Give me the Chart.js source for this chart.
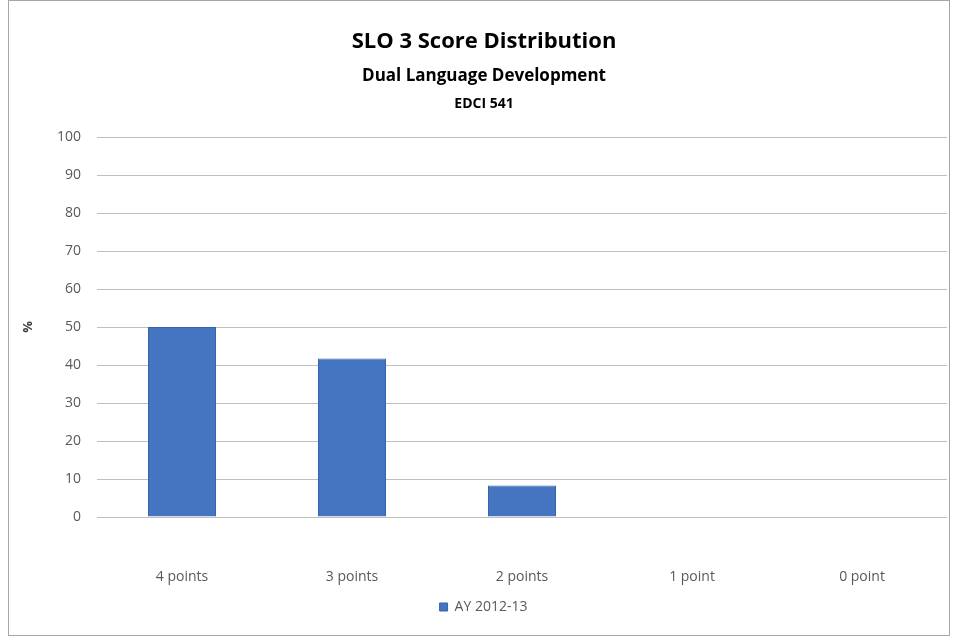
<!DOCTYPE html>
<html>
<head>
<meta charset="utf-8">
<script src="https://cdn.jsdelivr.net/npm/chart.js@4.4.1/dist/chart.umd.min.js"></script>
<style>
  html, body { margin: 0; padding: 0; background: #ffffff; }
  #wrap { position: relative; width: 956px; height: 639px; }
</style>
</head>
<body>
<div id="wrap"><canvas id="c" width="956" height="639"></canvas></div>
<script>
const titleLines = ["SLO 3 Score Distribution", "Dual Language Development", "EDCI 541"];
const categories = ["4 points", "3 points", "2 points", "1 point", "0 point"];
const seriesName = "AY 2012-13";
const seriesValues = [50, 41.7, 8.3, 0, 0];
const yTicks = [0, 10, 20, 30, 40, 50, 60, 70, 80, 90, 100];
const yTitle = "%";

const FONT = "'Open Sans', 'Liberation Sans', sans-serif";

const framePlugin = {
  id: 'frame',
  beforeDraw(chart) {
    const ctx = chart.ctx;
    ctx.save();
    ctx.fillStyle = '#ffffff';
    ctx.fillRect(0, 0, chart.width, chart.height);
    ctx.strokeStyle = '#a6a6a6';
    ctx.lineWidth = 1;
    ctx.strokeRect(8.5, 0.5, 941, 635);
    ctx.restore();
  },
  afterDraw(chart) {
    const ctx = chart.ctx;
    ctx.save();
    ctx.fillStyle = '#000000';
    ctx.textAlign = 'center';
    ctx.textBaseline = 'middle';
    const cx = 484;
    ctx.font = "bold 22px " + FONT;
    ctx.fillText(titleLines[0], cx, 42);
    ctx.font = "bold 17px " + FONT;
    ctx.fillText(titleLines[1], cx, 76);
    ctx.font = "bold 14px " + FONT;
    ctx.fillText(titleLines[2], cx, 104);
    ctx.restore();
  }
};

new Chart(document.getElementById('c'), {
  type: 'bar',
  data: {
    labels: categories,
    datasets: [{
      label: seriesName,
      data: seriesValues,
      backgroundColor: '#4575c0',
      borderColor: '#3563ad',
      borderWidth: 1,
      categoryPercentage: 0.8,
      barPercentage: 0.5
    }]
  },
  plugins: [framePlugin],
  options: {
    responsive: false,
    animation: false,
    devicePixelRatio: 1,
    layout: { padding: { top: 137, right: 9, bottom: 15, left: 20 } },
    plugins: {
      title: { display: false },
      tooltip: { enabled: false },
      legend: {
        display: true,
        position: 'bottom',
        labels: {
          boxWidth: 8, boxHeight: 8,
          color: '#595959',
          font: { family: FONT, size: 14 },
          padding: 10
        }
      }
    },
    scales: {
      x: {
        grid: { display: false, drawTicks: false },
        border: { display: false },
        ticks: { color: '#595959', font: { family: FONT, size: 14 }, padding: 52, maxRotation: 0 },
        afterFit(scale) { scale.height = 73; }
      },
      y: {
        min: 0, max: 100,
        afterBuildTicks(scale) { scale.ticks = yTicks.map(v => ({ value: v })); },
        grid: { color: '#bfbfbf', drawTicks: false, lineWidth: 1 },
        border: { display: false },
        ticks: { color: '#595959', font: { family: FONT, size: 14 }, padding: 16 },
        title: { display: true, text: yTitle, color: '#404040', font: { family: FONT, size: 13, weight: 'bold' }, padding: { top: 0, bottom: 6 } },
        afterFit(scale) { scale.width = 77; }
      }
    }
  }
});
</script>
</body>
</html>
